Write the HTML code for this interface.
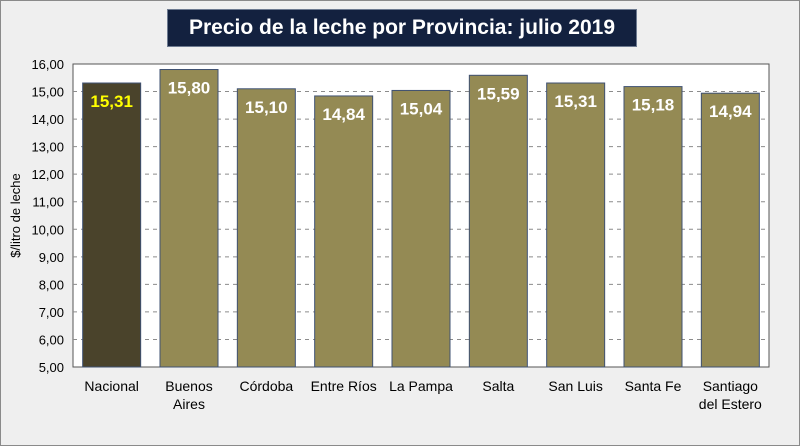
<!DOCTYPE html>
<html><head><meta charset="utf-8"><style>
body{margin:0;width:800px;height:446px;overflow:hidden;background:#fff;font-family:"Liberation Sans",sans-serif}
#wrap{position:absolute;left:0;top:0;width:798px;height:444px;background:#efefef;border:1px solid #8a8a8a}
#title{position:absolute;left:166px;top:8px;width:468px;height:36px;background:#13213f;border:1px solid #6d7a90;color:#fff;font-weight:bold;font-size:21px;line-height:36px;text-align:center}
</style></head><body>
<div id="wrap">
<div id="title">Precio de la leche por Provincia: julio 2019</div>
<svg id="chart" width="800" height="446" style="position:absolute;left:0;top:0"></svg>
</div>
<script>
const categories=["Nacional","Buenos Aires","Córdoba","Entre Ríos","La Pampa","Salta","San Luis","Santa Fe","Santiago del Estero"];
const values=[15.31,15.80,15.10,14.84,15.04,15.59,15.31,15.18,14.94];
const valueLabels=["15,31","15,80","15,10","14,84","15,04","15,59","15,31","15,18","14,94"];
const yTicks=[5,6,7,8,9,10,11,12,13,14,15,16];
const L=72,R=768,T=63,B=366,yMin=5,yMax=16;
const NS="http://www.w3.org/2000/svg";
const svg=document.getElementById('chart');
const y=v=>B-(v-yMin)/(yMax-yMin)*(B-T);
const bw=(R-L)/categories.length;
const x=i=>L+bw*(i+0.5);
function mk(t,a,p){const e=document.createElementNS(NS,t);for(const k in a)e.setAttribute(k,a[k]);(p||svg).appendChild(e);return e;}
const plot=mk('rect',{x:L,y:T,width:R-L,height:B-T,fill:'#fff',stroke:'#555','stroke-width':1});


yTicks.forEach(v=>{
  if(v>yMin&&v<yMax){const g=mk('line',{x1:L,x2:R,y1:y(v),y2:y(v),stroke:'#8c8c8c','stroke-dasharray':'4,4'});
  
  }
  const t=mk('text',{x:L-9,y:y(v)+5,'text-anchor':'end','font-size':'13',fill:'#000'});
  t.textContent=v.toFixed(2).replace('.',',');
  
  
});
const yt=mk('text',{x:0,y:0,transform:'translate(19,'+((T+B)/2)+') rotate(-90)','text-anchor':'middle','font-size':'13',fill:'#000'});
yt.textContent='$/litro de leche';


categories.forEach((c,i)=>{
  const w=58,cx=x(i);
  const r=mk('rect',{x:cx-w/2,y:y(values[i]),width:w,height:B-y(values[i]),fill:i==0?'#4a432b':'#948a54',stroke:'#3f5172','stroke-width':1});
  
  
  const t=mk('text',{x:cx,y:y(values[i])+24,'text-anchor':'middle','font-size':'17','font-weight':'bold',fill:i==0?'#ffff00':'#fff'});
  t.textContent=valueLabels[i];
  
  
  let lines=[c];
  if(c==="Buenos Aires")lines=["Buenos","Aires"];
  if(c==="Santiago del Estero")lines=["Santiago","del Estero"];
  lines.forEach((ln,j)=>{
    const lt=mk('text',{x:cx,y:B+24+j*18,'text-anchor':'middle','font-size':'14',fill:'#000'});
    lt.textContent=ln;
    
    
  });
});
</script>
</body></html>
